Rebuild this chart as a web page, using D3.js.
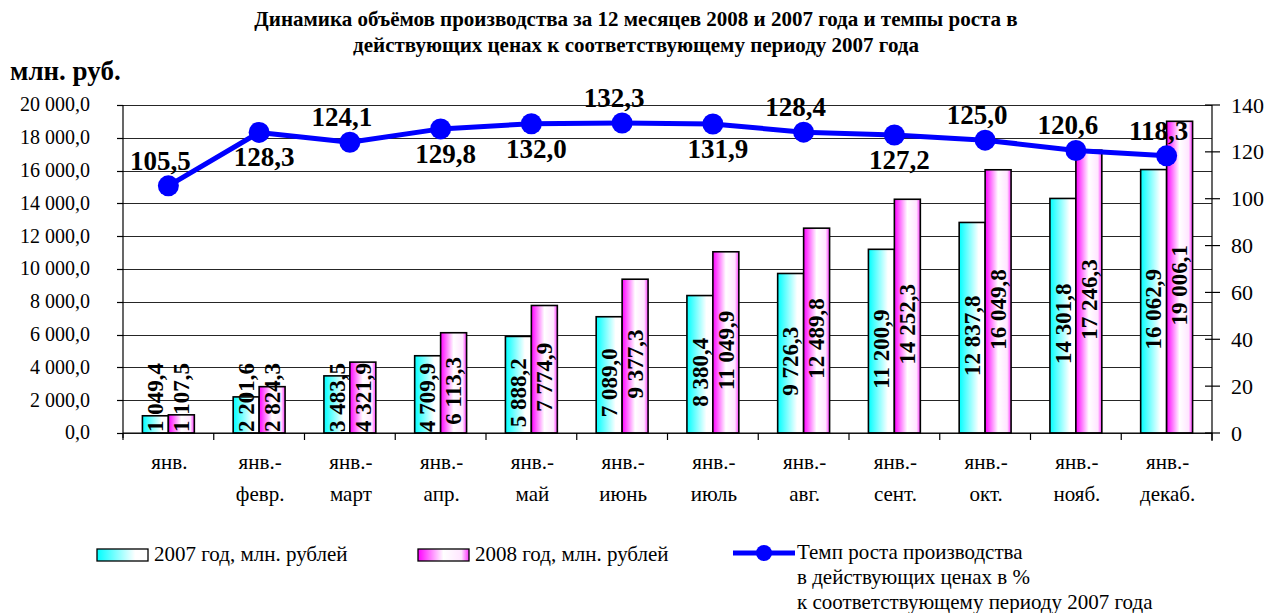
<!DOCTYPE html>
<html>
<head>
<meta charset="utf-8">
<script src="https://cdn.jsdelivr.net/npm/d3@7/dist/d3.min.js"></script>
</head>
<body style="margin:0">
<svg id="chart" width="1268" height="613"></svg>
<script>
// ---------------- data ----------------
const categories = [
  ["янв."], ["янв.-", "февр."], ["янв.-", "март"], ["янв.-", "апр."],
  ["янв.-", "май"], ["янв.-", "июнь"], ["янв.-", "июль"], ["янв.-", "авг."],
  ["янв.-", "сент."], ["янв.-", "окт."], ["янв.-", "нояб."], ["янв.-", "декаб."]
];
const seriesNames = ["2007 год, млн. рублей", "2008 год, млн. рублей"];
const values2007 = [1049.4, 2201.6, 3483.5, 4709.9, 5888.2, 7089.0, 8380.4, 9726.3, 11200.9, 12837.8, 14301.8, 16062.9];
const values2008 = [1107.5, 2824.3, 4321.9, 6113.3, 7774.9, 9377.3, 11049.9, 12489.8, 14252.3, 16049.8, 17246.3, 19006.1];
const growth = [105.5, 128.3, 124.1, 129.8, 132.0, 132.3, 131.9, 128.4, 127.2, 125.0, 120.6, 118.3];
const growthLabelSide = ["above", "below", "above", "below", "below", "above", "below", "above", "below", "above", "above", "above"];
const leftTicks = [0, 2000, 4000, 6000, 8000, 10000, 12000, 14000, 16000, 18000, 20000];
const rightTicks = [0, 20, 40, 60, 80, 100, 120, 140];
const lineLegend = ["Темп роста производства", "в действующих ценах в %", "к соответствующему периоду 2007 года"];
const titleLines = [
  "Динамика объёмов производства за 12 месяцев 2008 и 2007 года и темпы роста в",
  "действующих ценах к соответствующему периоду 2007 года"
];
const yUnit = "млн. руб.";

// ---------------- layout ----------------
const W = 1268, H = 613;
const plot = { left: 123, right: 1212, top: 105, bottom: 433 };
const FONT = "Liberation Serif";

const svg = d3.select("#chart");
svg.append("rect").attr("width", W).attr("height", H).attr("fill", "#fff");
function txt(sel) { return sel.append("text").style("font-family", `"${FONT}"`).attr("fill", "#000"); }
// place horizontal text through a transform (same path as the rotated bar labels)
function at(t, px, py) { return t.attr("transform", `translate(${px},${py}) rotate(0.01)`); }

const ruLocale = d3.formatLocale({ decimal: ",", thousands: " ", grouping: [3], currency: ["", ""] });
const fmt1 = ruLocale.format(",.1f");

const x = d3.scaleBand().domain(d3.range(categories.length)).range([plot.left, plot.right]).paddingInner(0).paddingOuter(0);
const groupW = x.bandwidth() * 0.572;
const x1 = d3.scaleBand().domain([0, 1]).range([-groupW / 2, groupW / 2]);
const yL = d3.scaleLinear().domain([0, 20000]).range([plot.bottom, plot.top]);
const yR = d3.scaleLinear().domain([0, 140]).range([plot.bottom, plot.top]);

// gradients
const defs = svg.append("defs");
const g07 = defs.append("linearGradient").attr("id", "grad07").attr("x1", "0").attr("y1", "0").attr("x2", "1").attr("y2", "0");
g07.append("stop").attr("offset", "0").attr("stop-color", "#00ffff");
g07.append("stop").attr("offset", "0.75").attr("stop-color", "#ffffff");
g07.append("stop").attr("offset", "1").attr("stop-color", "#ffffff");
const g08 = defs.append("linearGradient").attr("id", "grad08").attr("x1", "0").attr("y1", "0").attr("x2", "1").attr("y2", "0");
g08.append("stop").attr("offset", "0").attr("stop-color", "#ff00ff");
g08.append("stop").attr("offset", "0.5").attr("stop-color", "#ffffff");
g08.append("stop").attr("offset", "0.85").attr("stop-color", "#ffe6ff");
g08.append("stop").attr("offset", "1").attr("stop-color", "#ff33ff");
const fills = ["url(#grad07)", "url(#grad08)"];

// ---------------- title ----------------
titleLines.forEach((t, i) => {
  at(txt(svg), W / 2 + 2, 26 + i * 26)
    .attr("text-anchor", "middle")
    .attr("font-size", 21).attr("font-weight", "bold")
    .text(t);
});
at(txt(svg), 10, 80)
  .attr("font-size", 27).attr("font-weight", "bold")
  .text(yUnit);

// ---------------- gridlines ----------------
svg.append("g").selectAll("line").data(leftTicks).join("line")
  .attr("x1", plot.left).attr("x2", plot.right)
  .attr("y1", d => Math.round(yL(d)) + 0.5).attr("y2", d => Math.round(yL(d)) + 0.5)
  .attr("stroke", "#000").attr("stroke-width", 1).attr("stroke-opacity", 0.85);

// ---------------- bars ----------------
const barData = [];
categories.forEach((c, i) => {
  [values2007[i], values2008[i]].forEach((v, s) => barData.push({ i, s, v }));
});
svg.append("g").selectAll("rect").data(barData).join("rect")
  .attr("x", d => x(d.i) + x.bandwidth() / 2 + x1(d.s))
  .attr("width", x1.bandwidth())
  .attr("y", d => yL(d.v))
  .attr("height", d => yL(0) - yL(d.v))
  .attr("fill", d => fills[d.s])
  .attr("stroke", "#000").attr("stroke-width", 1.6);

// bar value labels (rotated, bold)
const barFS = 23;
const barLabels = svg.append("g");
barData.forEach(d => {
  const cx = x(d.i) + x.bandwidth() / 2 + x1(d.s) + x1.bandwidth() / 2;
  const t = txt(barLabels)
    .attr("font-size", barFS).attr("font-weight", "bold")
    .attr("text-anchor", "middle")
    .text(fmt1(d.v));
  const L = t.node().getComputedTextLength();
  const center = (yL(d.v) + yL(0)) / 2 + 8;
  const c = Math.min(center, plot.bottom - 1 - L / 2);
  t.attr("transform", `translate(${cx + barFS * 0.34},${c}) rotate(-90)`);
});

// ---------------- axes ----------------
const axes = svg.append("g").attr("stroke", "#000").attr("stroke-width", 1.2);
axes.append("line").attr("x1", plot.left).attr("x2", plot.left).attr("y1", plot.top).attr("y2", plot.bottom + 5);
axes.selectAll(".lt").data(leftTicks).join("line").attr("class", "lt")
  .attr("x1", plot.left - 6).attr("x2", plot.left)
  .attr("y1", d => Math.round(yL(d)) + 0.5).attr("y2", d => Math.round(yL(d)) + 0.5);
axes.append("line").attr("x1", plot.right).attr("x2", plot.right).attr("y1", plot.top).attr("y2", plot.bottom + 8);
axes.selectAll(".rt").data(rightTicks).join("line").attr("class", "rt")
  .attr("x1", plot.right - 7).attr("x2", plot.right + 8)
  .attr("y1", d => yR(d)).attr("y2", d => yR(d));
axes.append("line").attr("x1", plot.left).attr("x2", plot.right).attr("y1", plot.bottom).attr("y2", plot.bottom);
axes.selectAll(".bt").data(d3.range(categories.length + 1)).join("line").attr("class", "bt")
  .attr("x1", d => plot.left + d * x.bandwidth()).attr("x2", d => plot.left + d * x.bandwidth())
  .attr("y1", plot.bottom).attr("y2", plot.bottom + 7);

// left tick labels
const lg = svg.append("g");
leftTicks.forEach(d => {
  at(txt(lg), 90, yL(d) + 6.5)
    .attr("text-anchor", "end").attr("font-size", 20).text(fmt1(d));
});
// right tick labels
const rg = svg.append("g");
rightTicks.forEach(d => {
  at(txt(rg), 1231, yR(d) + 7.5)
    .attr("text-anchor", "start").attr("font-size", 22).text(d);
});
// category labels
const catG = svg.append("g");
categories.forEach((c, i) => {
  c.forEach((line, j) => {
    at(txt(catG), x(i) + x.bandwidth() / 2 + 1, 469 + j * 32)
      .attr("text-anchor", "middle").attr("font-size", 21)
      .text(line);
  });
});

// ---------------- line series ----------------
const lineGen = d3.line().x((d, i) => x(i) + x.bandwidth() / 2).y(d => yR(d));
svg.append("path").datum(growth).attr("d", lineGen)
  .attr("fill", "none").attr("stroke", "#0000ff").attr("stroke-width", 5).attr("stroke-linejoin", "round");
svg.append("g").selectAll("circle").data(growth).join("circle")
  .attr("cx", (d, i) => x(i) + x.bandwidth() / 2).attr("cy", d => yR(d))
  .attr("r", 10.5).attr("fill", "#0000ff");
const gl = svg.append("g");
growth.forEach((d, i) => {
  const above = growthLabelSide[i] === "above";
  const px = x(i) + x.bandwidth() / 2 + (above ? -8 : 5);
  const py = yR(d) + (above ? -16 : 34);
  at(txt(gl), px, py)
    .attr("text-anchor", "middle").attr("font-size", 27).attr("font-weight", "bold")
    .text(fmt1(d));
});

// ---------------- legend ----------------
const leg = svg.append("g");
const legItems = [{ x: 97, fill: fills[0], text: seriesNames[0] }, { x: 418, fill: fills[1], text: seriesNames[1] }];
legItems.forEach(it => {
  leg.append("rect").attr("x", it.x).attr("y", 549).attr("width", 51).attr("height", 12)
    .attr("fill", it.fill).attr("stroke", "#000").attr("stroke-width", 1.3);
  at(txt(leg), it.x + 57, 561)
    .attr("font-size", 21).text(it.text);
});
leg.append("line").attr("x1", 733).attr("x2", 795).attr("y1", 553).attr("y2", 553)
  .attr("stroke", "#0000ff").attr("stroke-width", 5);
leg.append("circle").attr("cx", 764).attr("cy", 553).attr("r", 8).attr("fill", "#0000ff");
lineLegend.forEach((t, i) => {
  at(txt(leg), 797, 559 + i * 25)
    .attr("font-size", 21).text(t);
});
</script>
</body>
</html>
